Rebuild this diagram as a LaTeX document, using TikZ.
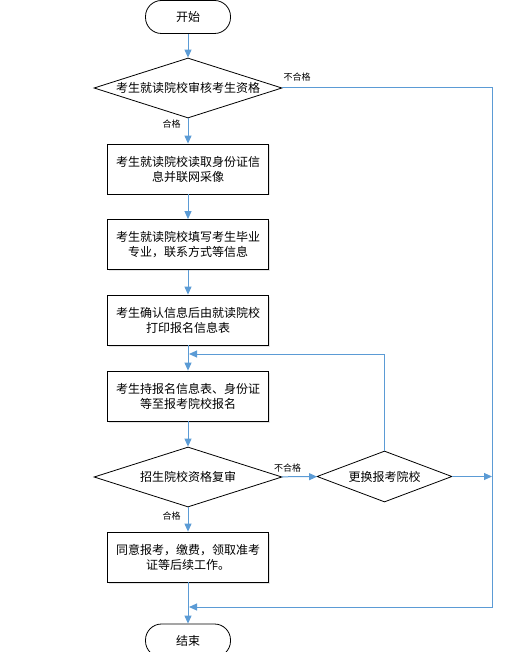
\documentclass[tikz,border=0pt]{standalone}
\usepackage{fontspec}
\setmainfont{Noto Sans CJK SC}
\usetikzlibrary{shapes.geometric,arrows.meta,shadows}
\definecolor{flowblue}{RGB}{91,155,213}
\begin{document}
\begin{tikzpicture}[x=1pt,y=-1pt,every node/.style={font=\fontsize{12}{15}\selectfont},
  term/.style={draw,rectangle,rounded corners=16pt,minimum width=85pt,minimum height=33pt,line width=0.8pt,fill=white},
  stepbox/.style={draw,rectangle,align=center,minimum width=161pt,minimum height=50pt,inner sep=0pt,line width=0.8pt,fill=white,
    drop shadow={shadow xshift=1.5pt,shadow yshift=-1.5pt,opacity=0.25,fill=black!40}},
  check/.style={draw,diamond,inner sep=0pt,line width=0.8pt,fill=white},
  flow/.style={draw=flowblue,line width=1pt,-{Triangle[length=8pt,width=7pt]}},
  tag/.style={font=\fontsize{9}{10}\selectfont,inner sep=1pt}]
\clip (0,0) rectangle (513,652);
\node[term] (start) at (188,17) {开始};
\node[check,minimum width=188pt,minimum height=60pt,aspect=3.1] (audit) at (188,88) {考生就读院校审核考生资格};
\node[stepbox] (idcard) at (188,169) {考生就读院校读取身份证信\\息并联网采像};
\node[stepbox] (fillin) at (188,244.5) {考生就读院校填写考生毕业\\专业，联系方式等信息};
\node[stepbox] (print) at (188,320) {考生确认信息后由就读院校\\打印报名信息表};
\node[stepbox] (apply) at (188,396) {考生持报名信息表、身份证\\等至报考院校报名};
\node[check,minimum width=188pt,minimum height=60pt,aspect=3.1] (recheck) at (188,477) {招生院校资格复审};
\node[check,minimum width=135pt,minimum height=51pt,aspect=2.6] (switch) at (384.5,476.5) {更换报考院校};
\node[stepbox] (pay) at (188,557) {同意报考，缴费，领取准考\\证等后续工作。};
\node[term] (finish) at (188,640.5) {结束};
% free ends of the loop lines
\coordinate (rtop) at (492,88);
\coordinate (rmid) at (492,476.5);
\coordinate (rbot) at (492,607);
\coordinate (loopin) at (189,354);
\coordinate (endin) at (189,607);
\draw[flow] (start) -- (audit);
\draw[flow] (audit) -- node[tag,pos=0.23,left=6pt]{合格} (idcard);
\draw[flow] (idcard) -- (fillin);
\draw[flow] (fillin) -- (print);
\draw[flow] (print) -- (apply);
\draw[flow] (apply) -- (recheck);
\draw[flow] (recheck) -- node[tag,pos=0.36,left=6pt]{合格} (pay);
\draw[flow] (recheck) -- node[tag,pos=0.17,above=3pt]{不合格} (switch);
\draw[flow] (switch.north) |- (loopin);
\draw[flow] (switch) -- (rmid);
\draw[flow] (audit.east) -- node[tag,pos=0.07,above=5pt]{不合格} (rtop) -- (rbot) -- (endin);
\draw[flow] (pay) -- (finish);
\end{tikzpicture}
\end{document}
